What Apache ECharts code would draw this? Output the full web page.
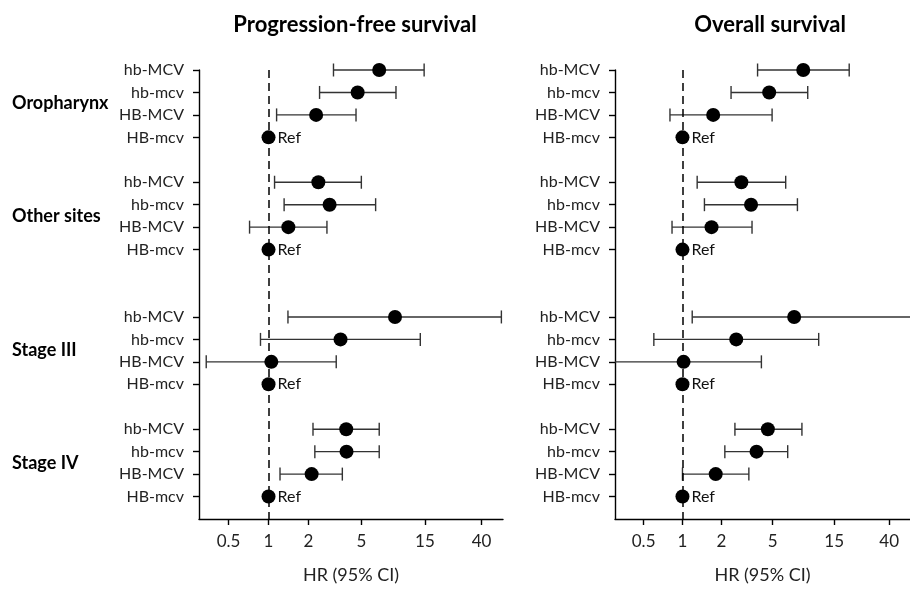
<!DOCTYPE html>
<html>
<head>
<meta charset="utf-8">
<script src="https://cdn.jsdelivr.net/npm/echarts@6/dist/echarts.min.js"></script>
<style>
  html, body { margin: 0; padding: 0; background: #fff; }
  #chart { width: 910px; height: 589px; }
</style>
</head>
<body>
<div id="chart"></div>
<script>
// rows top to bottom, empty rows separate the groups
const rowLabels = ["hb-MCV", "hb-mcv", "HB-MCV", "HB-mcv"];
const groups = ["Oropharynx", "Other sites", "Stage III", "Stage IV"];
const groupStart = [0, 5, 11, 16];   // row index of first line of each group
const xTicks = [0.5, 1, 2, 5, 15, 40];

// Progression-free survival: [hr, lower, upper] per row (HB-mcv = Ref)
const pfsHR    = [6.8, 4.68, 2.28, 1,  2.37, 2.88, 1.41, 1,  8.94, 3.48, 1.05, 1,  3.84, 3.86, 2.11, 1];
const pfsLower = [3.08, 2.42, 1.15, null, 1.11, 1.31, 0.72, null, 1.40, 0.87, 0.34, null, 2.16, 2.23, 1.22, null];
const pfsUpper = [14.8, 9.09, 4.55, null, 4.99, 6.39, 2.75, null, 56.4, 13.85, 3.23, null, 6.8, 6.8, 3.59, null];

// Overall survival
const osHR    = [8.63, 4.7, 1.73, 1,  2.86, 3.4, 1.68, 1,  7.34, 2.61, 1.02, 1,  4.59, 3.75, 1.81, 1];
const osLower = [3.82, 2.38, 0.80, null, 1.30, 1.48, 0.83, null, 1.19, 0.60, 0.25, null, 2.55, 2.13, 1.0, null];
const osUpper = [19.6, 9.35, 4.95, null, 6.31, 7.78, 3.46, null, 70, 11.37, 4.09, null, 8.43, 6.54, 3.27, null];

const FONT = "Lato";
const rowIndex = [];
const rowName = {};
groupStart.forEach(s => {
  rowLabels.forEach((l, i) => { rowIndex.push(s + i); rowName[s + i] = l; });
});
const groupMid = groupStart.map(s => s + 1.5);

const chart = echarts.init(document.getElementById("chart"));

function ciSeries(idx, hr, lo, hi) {
  const data = [];
  hr.forEach((v, i) => { if (lo[i] != null) data.push([lo[i], hi[i], rowIndex[i]]); });
  return {
    type: "custom",
    xAxisIndex: idx, yAxisIndex: idx * 2,
    silent: true,
    data: data,
    renderItem: (params, api) => {
      const cs = params.coordSys;
      let p1 = api.coord([api.value(0), api.value(2)]);
      let p2 = api.coord([api.value(1), api.value(2)]);
      const y = p1[1];
      const capH = 6.5;
      const xMin = cs.x, xMax = cs.x + cs.width;
      const children = [];
      const x1 = Math.max(p1[0], xMin), x2 = Math.min(p2[0], xMax);
      const st = { stroke: "#333", lineWidth: 1.4 };
      children.push({ type: "line", shape: { x1: x1, y1: y, x2: x2, y2: y }, style: st });
      if (p1[0] >= xMin) children.push({ type: "line", shape: { x1: p1[0], y1: y - capH, x2: p1[0], y2: y + capH }, style: st });
      if (p2[0] <= xMax) children.push({ type: "line", shape: { x1: p2[0], y1: y - capH, x2: p2[0], y2: y + capH }, style: st });
      return { type: "group", children: children };
    },
    z: 2
  };
}

function pointSeries(idx, hr, lo) {
  return {
    type: "scatter",
    xAxisIndex: idx, yAxisIndex: idx * 2,
    symbol: "circle",
    symbolSize: 14,
    itemStyle: { color: "#000", opacity: 1 },
    silent: true,
    data: hr.map((v, i) => ({
      value: [v, rowIndex[i]],
      label: lo[i] == null ? {
        show: true, position: "right", distance: 2, formatter: "Ref",
        color: "#111", fontSize: 16, fontFamily: FONT
      } : { show: false }
    })),
    markLine: {
      silent: true, symbol: "none", label: { show: false },
      lineStyle: { color: "#000", type: [8, 5], width: 1.5 },
      data: [{ xAxis: 1 }]
    },
    z: 3
  };
}

function xAxis(idx) {
  return {
    type: "log", gridIndex: idx, min: 0.3, max: 58, logBase: 10, position: "bottom",
    name: "HR (95% CI)", nameLocation: "middle", nameGap: 47,
    nameTextStyle: { fontSize: 18, fontFamily: FONT, color: "#222" },
    axisLine: { show: true, onZero: false, lineStyle: { color: "#000", width: 1.4 } },
    axisTick: { show: true, length: 6, customValues: xTicks, lineStyle: { color: "#000", width: 1.4 } },
    axisLabel: { customValues: xTicks, margin: 14, fontSize: 17, fontFamily: FONT, color: "#222",
      formatter: v => String(+v.toFixed(2)) },
    splitLine: { show: false },
    minorTick: { show: false }
  };
}

function yAxes(idx) {
  return [{
    type: "value", gridIndex: idx, inverse: true, min: 0, max: 20, position: "left",
    axisLine: { show: true, onZero: false, lineStyle: { color: "#000", width: 1.4 } },
    axisTick: { show: true, length: 6, customValues: rowIndex, lineStyle: { color: "#000", width: 1.4 } },
    axisLabel: { customValues: rowIndex, margin: 15, fontSize: 16, fontFamily: FONT, color: "#222",
      formatter: v => rowName[v] || "" },
    splitLine: { show: false }
  }, {
    type: "value", gridIndex: idx, inverse: true, min: 0, max: 20, position: "left",
    axisLine: { show: false }, axisTick: { show: false }, splitLine: { show: false },
    axisLabel: idx === 0 ? { customValues: groupMid, margin: 187, align: "left",
      fontSize: 18, fontWeight: "bold", fontFamily: FONT, color: "#000",
      formatter: v => groups[groupMid.indexOf(v)] || "" } : { show: false }
  }];
}

chart.setOption({
  backgroundColor: "#fff",
  animation: false,
  title: [
    { text: "Progression-free survival", left: 350, top: 9, textAlign: "center",
      textStyle: { fontSize: 22, fontWeight: "bold", fontFamily: FONT, color: "#000" } },
    { text: "Overall survival", left: 765, top: 9, textAlign: "center",
      textStyle: { fontSize: 22, fontWeight: "bold", fontFamily: FONT, color: "#000" } }
  ],
  grid: [
    { left: 199, width: 304, top: 70, bottom: 69 },
    { left: 615, width: 304, top: 70, bottom: 69 }
  ],
  xAxis: [xAxis(0), xAxis(1)],
  yAxis: yAxes(0).concat(yAxes(1)),
  series: [
    ciSeries(0, pfsHR, pfsLower, pfsUpper),
    pointSeries(0, pfsHR, pfsLower),
    ciSeries(1, osHR, osLower, osUpper),
    pointSeries(1, osHR, osLower)
  ]
});
</script>
</body>
</html>
